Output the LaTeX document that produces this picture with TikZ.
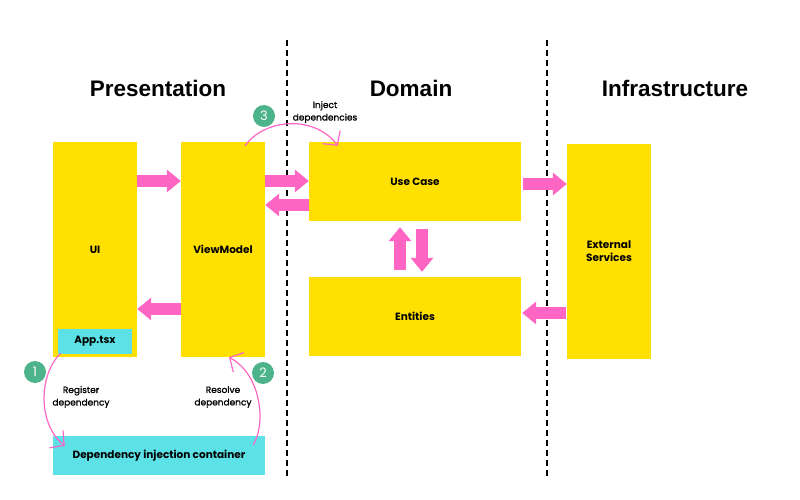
\documentclass[tikz,border=0pt]{standalone}
\usepackage{fontspec}
\setmainfont{Liberation Sans}
\newfontfamily\lblfont{Poppins}
\newfontfamily\notefont{Poppins}[FakeBold=1.2]
\usetikzlibrary{arrows.meta,calc}

\definecolor{boxyellow}{HTML}{FFE000}
\definecolor{boxcyan}{HTML}{5CE1E6}
\definecolor{flowpink}{HTML}{FF66C4}
\definecolor{stepgreen}{HTML}{4DB38A}

\tikzset{
  layerbox/.style={fill=boxyellow, draw=none, inner sep=0pt, align=center,
    font=\lblfont\bfseries\fontsize{10.5}{13}\selectfont},
  infobox/.style={fill=boxcyan, draw=none, inner sep=0pt, align=center,
    font=\lblfont\bfseries\fontsize{10.5}{13}\selectfont},
  heading/.style={font=\bfseries\fontsize{22.5}{26}\selectfont},
  blockarrow/.style={draw=flowpink, line width=12pt,
    -{Triangle[length=14pt,width=22pt]}},
  flowcurve/.style={draw=flowpink, line width=1.2pt,
    -{Straight Barb[length=10pt,width=22pt]}},
  stepmark/.style={circle, fill=stepgreen, text=white, inner sep=0pt,
    minimum size=22pt, font=\lblfont\fontsize{13}{14}\selectfont},
  note/.style={align=center, font=\notefont\fontsize{9}{12.5}\selectfont},
  divider/.style={draw=black, line width=2pt, dash pattern=on 6pt off 4pt}
}

\begin{document}
\begin{tikzpicture}[x=1pt,y=-1pt]
  \useasboundingbox (0,0) rectangle (800,500);
  \fill[white] (0,0) rectangle (800,500);

  % layer dividers
  \coordinate (d1top) at (287,40);
  \coordinate (d1bot) at (287,476);
  \coordinate (d2top) at (547,40);
  \coordinate (d2bot) at (547,476);
  \draw[divider] (d1top) -- (d1bot);
  \draw[divider] (d2top) -- (d2bot);

  % layer titles
  \node[heading] (hpres) at (158,88) {Presentation};
  \node[heading] (hdom) at (411,88) {Domain};
  \node[heading] (hinf) at (675,88) {Infrastructure};

  % components
  \node[layerbox, minimum width=84, minimum height=215] (ui) at (95,249.5) {UI};
  \node[layerbox, minimum width=84, minimum height=215] (vm) at (223,249.5) {ViewModel};
  \node[layerbox, minimum width=212, minimum height=79] (uc) at (415,181.5) {Use Case};
  \node[layerbox, minimum width=212, minimum height=79] (ent) at (415,316.5) {Entities};
  \node[layerbox, minimum width=84, minimum height=215] (ext) at (609,251.5) {External\\Services};
  \node[infobox, minimum width=74, minimum height=25] (app) at (95,341.5) {App.tsx};
  \node[infobox, minimum width=212, minimum height=39] (di) at (159,455.5) {Dependency injection container};

  % data flow between components
  \path ([yshift=68.5pt]ui.east) coordinate (uiA);
  \draw[blockarrow] (uiA) -- (uiA -| vm.west);
  \path ([yshift=-59.5pt]vm.west) coordinate (vmB);
  \draw[blockarrow] (vmB) -- (vmB -| ui.east);
  \path ([yshift=68.5pt]vm.east) coordinate (vmA);
  \draw[blockarrow] (vmA) -- (vmA -| uc.west);
  \path ([yshift=-23.5pt]uc.west) coordinate (ucB);
  \draw[blockarrow] (ucB) -- (ucB -| vm.east);
  \path ([yshift=-2.5pt]uc.east) coordinate (ucA);
  \draw[blockarrow, shorten <=2pt] (ucA) -- (ucA -| ext.west);
  \path ([yshift=-61.5pt]ext.west) coordinate (extB);
  \draw[blockarrow, shorten <=1pt, shorten >=1pt] (extB) -- (extB -| ent.east);
  \path ([xshift=-15pt]ent.north) coordinate (entU);
  \draw[blockarrow, shorten <=7pt, shorten >=6pt] (entU) -- (entU |- uc.south);
  \path ([xshift=7pt]uc.south) coordinate (ucD);
  \draw[blockarrow, shorten <=8pt, shorten >=5pt] (ucD) -- (ucD |- ent.north);

  % dependency injection steps
  \draw[flowcurve] ([xshift=3pt,yshift=1pt]app.south west)
    .. controls (38,375) and (38,425) .. ([xshift=12pt,yshift=-10pt]di.north west);
  \draw[flowcurve] ([xshift=-12pt,yshift=-9pt]di.north east)
    .. controls (266,425) and (262,375) .. ([xshift=6pt]vm.south);
  \draw[flowcurve] ([xshift=22pt,yshift=-4pt]vm.north)
    .. controls (265,118) and (315,115) .. ([xshift=29pt,yshift=-4pt]uc.north west);

  \node[stepmark] (s1) at (35,372) {1};
  \node[stepmark] (s2) at (263,373) {2};
  \node[stepmark] (s3) at (264,116) {3};

  \node[note] (n1) at (81,397) {Register\\dependency};
  \node[note] (n2) at (223,397) {Resolve\\dependency};
  \node[note] (n3) at (325,112) {Inject\\dependencies};
\end{tikzpicture}
\end{document}
